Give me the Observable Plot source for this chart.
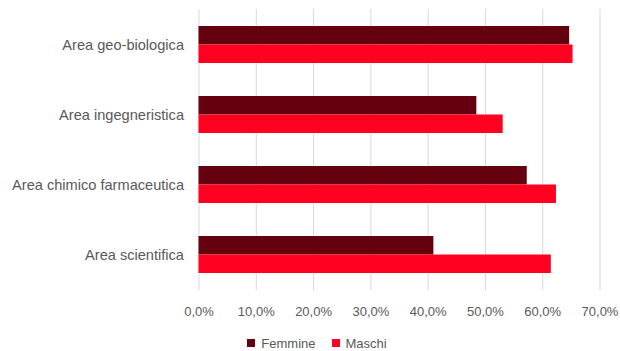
<!DOCTYPE html>
<html>
<head>
<meta charset="utf-8">
<script src="https://cdn.jsdelivr.net/npm/d3@7"></script>
<script src="https://cdn.jsdelivr.net/npm/@observablehq/plot@0.6"></script>
<style>
  html, body { margin: 0; padding: 0; background: #fff; }
  body { width: 620px; height: 351px; overflow: hidden; font-family: "Liberation Sans", Arial, sans-serif; }
  #legend { display: flex; justify-content: center; align-items: center; gap: 16px; font-size: 13px; color: #595959; height: 16px; margin-left: 14px; }
  #legend span.sw { display: inline-block; width: 8px; height: 8px; margin-right: 6px; }
  #legend .item { display: flex; align-items: center; }
</style>
</head>
<body>
<div id="chart"></div>
<div id="legend"></div>
<script>
const categories = ["Area geo-biologica", "Area ingegneristica", "Area chimico farmaceutica", "Area scientifica"];
const series = ["Femmine", "Maschi"];
const femmine = [64.7, 48.5, 57.3, 41.0];
const maschi = [65.3, 53.1, 62.4, 61.5];
const xTicks = [0, 10, 20, 30, 40, 50, 60, 70];
const colors = ["#65000f", "#ff0021"];

const rows = [];
categories.forEach((c, i) => {
  rows.push({area: c, sex: "Femmine", value: femmine[i]});
  rows.push({area: c, sex: "Maschi", value: maschi[i]});
});

const fmt = d => d.toFixed(1).replace(".", ",") + "%";
const bw = 37;

const chart = Plot.plot({
  width: 620,
  height: 335,
  marginLeft: 198.5,
  marginRight: 20.5,
  marginTop: 9,
  marginBottom: 45,
  style: {fontFamily: "Liberation Sans, Arial, sans-serif", fontSize: "13px", color: "#595959", background: "#fff"},
  x: {domain: [0, 70], ticks: xTicks, tickFormat: fmt, label: null},
  y: {domain: categories, paddingInner: 0.4733, paddingOuter: 0.2366, label: null},
  marks: [
    Plot.ruleX(xTicks, {stroke: "#d9d9d9", strokeWidth: 1}),
    Plot.barX(rows.filter(d => d.sex === "Femmine"), {y: "area", x: "value", fill: colors[0], insetBottom: bw / 2}),
    Plot.barX(rows.filter(d => d.sex === "Maschi"), {y: "area", x: "value", fill: colors[1], insetTop: bw / 2}),
    Plot.axisX({ticks: xTicks, tickFormat: fmt, tickSize: 0, tickPadding: 16, label: null, fontSize: 13}),
    Plot.axisY({tickSize: 0, tickPadding: 15, label: null, fontSize: 14.6})
  ]
});
document.getElementById("chart").appendChild(chart);

const legend = document.getElementById("legend");
series.forEach((s, i) => {
  const item = document.createElement("div");
  item.className = "item";
  item.innerHTML = `<span class="sw" style="background:${colors[i]}"></span>${s}`;
  legend.appendChild(item);
});
</script>
</body>
</html>
